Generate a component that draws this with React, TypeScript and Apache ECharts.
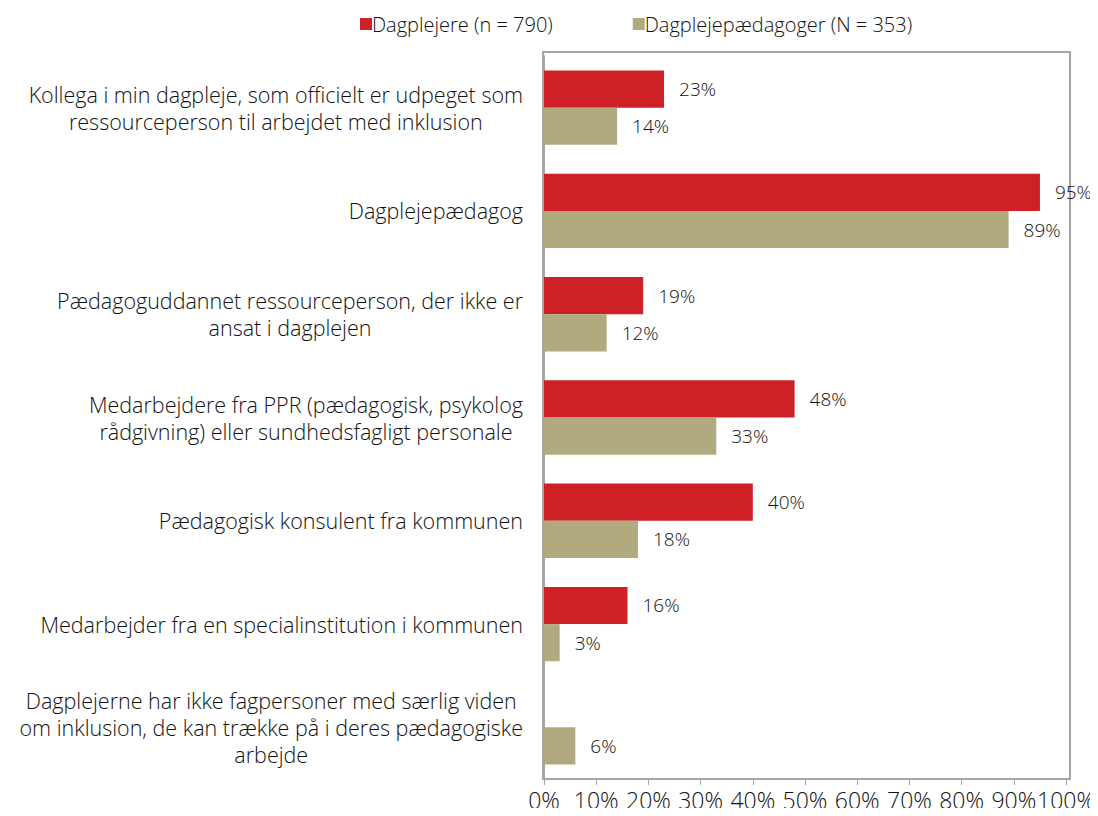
import React, { useEffect, useRef } from "react";
import * as echarts from "echarts";

const categories = [
  "Kollega i min dagpleje, som officielt er udpeget som\nressourceperson til arbejdet med inklusion",
  "Dagplejepædagog",
  "Pædagoguddannet ressourceperson, der ikke er\nansat i dagplejen",
  "Medarbejdere fra PPR (pædagogisk, psykolog\nrådgivning) eller sundhedsfagligt personale",
  "Pædagogisk konsulent fra kommunen",
  "Medarbejder fra en specialinstitution i kommunen",
  "Dagplejerne har ikke fagpersoner med særlig viden\nom inklusion, de kan trække på i deres pædagogiske\narbejde",
];
const seriesNames = ["Dagplejere (n = 790)", "Dagplejepædagoger (N = 353)"];
const dagplejere: (number | null)[] = [23, 95, 19, 48, 40, 16, null];
const paedagoger: number[] = [14, 89, 12, 33, 18, 3, 6];

const FONT = "'Open Sans', 'Noto Sans', sans-serif";
const WEIGHT = 300;
const TEXT = "#111";

export default function App() {
  const ref = useRef<HTMLDivElement>(null);
  useEffect(() => {
    if (!ref.current) return;
    const chart = echarts.init(ref.current, undefined, { renderer: "svg" });
    const label = {
      show: true,
      position: "right",
      distance: 15,
      formatter: "{c}%",
      fontSize: 19,
      fontWeight: WEIGHT,
      color: TEXT,
      fontFamily: FONT,
    };
    chart.setOption({
      animation: false,
      textStyle: { fontFamily: FONT },
      legend: {
        top: 9,
        left: 355,
        itemWidth: 12,
        itemHeight: 12,
        itemGap: 80,
        icon: "rect",
        textStyle: {
          fontSize: 20,
          fontWeight: WEIGHT,
          color: TEXT,
          fontFamily: FONT,
          padding: [0, 0, 0, -5],
        },
        data: seriesNames,
      },
      graphic: [
        {
          type: "rect",
          shape: { x: 543, y: 52, width: 527, height: 727 },
          style: { fill: "none", stroke: "#a6a6a6", lineWidth: 2 },
          z: 0,
        },
      ],
      grid: { left: 544, right: 28, top: 56, bottom: 37 },
      xAxis: {
        type: "value",
        min: 0,
        max: 100,
        interval: 10,
        splitLine: { show: false },
        axisLine: { show: true, lineStyle: { color: "#a6a6a6", width: 2 } },
        axisTick: { show: true, length: 6, lineStyle: { color: "#a6a6a6", width: 1 } },
        axisLabel: {
          formatter: "{value}%",
          fontSize: 23,
          fontWeight: WEIGHT,
          color: TEXT,
          margin: 9,
          fontFamily: FONT,
          hideOverlap: false,
        },
      },
      yAxis: {
        type: "category",
        inverse: true,
        data: categories,
        axisLine: { show: true, lineStyle: { color: "#a6a6a6", width: 2 } },
        axisTick: { show: false },
        axisLabel: {
          margin: 21,
          align: "right",
          formatter: (v: string) =>
            v
              .split("\n")
              .map((l) => `{c|${l}}`)
              .join("\n"),
          rich: {
            c: {
              align: "center",
              fontSize: 21.5,
              fontWeight: WEIGHT,
              lineHeight: 27,
              color: TEXT,
              fontFamily: FONT,
            },
          },
        },
      },
      series: [
        {
          name: seriesNames[0],
          type: "bar",
          data: dagplejere,
          itemStyle: { color: "#cd2027" },
          barGap: "0%",
          barCategoryGap: "28%",
          label,
        },
        {
          name: seriesNames[1],
          type: "bar",
          data: paedagoger,
          itemStyle: { color: "#b1aa7f" },
          barGap: "0%",
          barCategoryGap: "28%",
          label,
        },
      ],
    });
    return () => chart.dispose();
  }, []);
  return <div ref={ref} style={{ width: 1098, height: 816, margin: -8 }} />;
}
